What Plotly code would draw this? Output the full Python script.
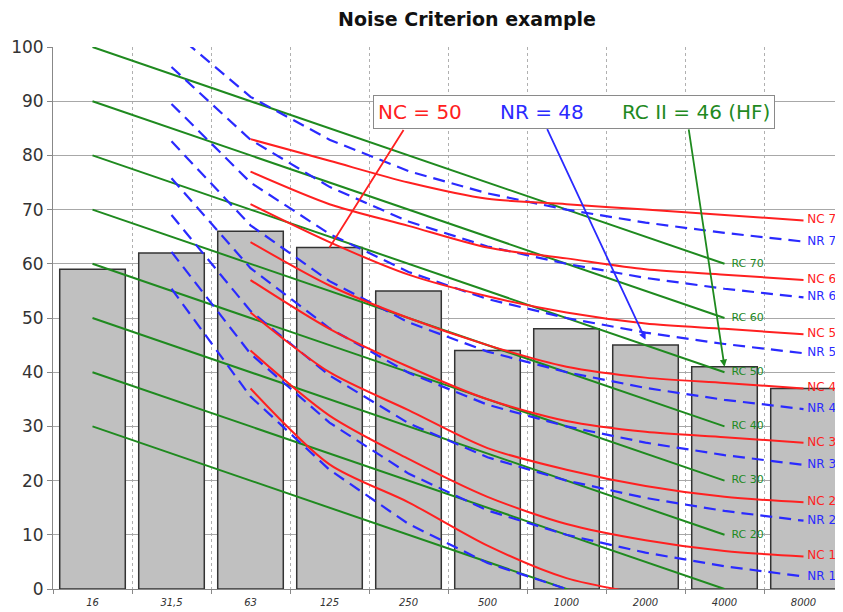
import plotly.graph_objects as go

# ---------------- data ----------------
freqs = ["16", "31,5", "63", "125", "250", "500", "1000", "2000", "4000", "8000"]
measured = [59, 62, 66, 63, 55, 44, 48, 45, 41, 37]

# RC Mark II curves (16 .. 4000 Hz)
rc_freqs = freqs[0:9]
rc_70 = [100, 95, 90, 85, 80, 75, 70, 65, 60]
rc_60 = [90, 85, 80, 75, 70, 65, 60, 55, 50]
rc_50 = [80, 75, 70, 65, 60, 55, 50, 45, 40]
rc_40 = [70, 65, 60, 55, 50, 45, 40, 35, 30]
rc_30 = [60, 55, 50, 45, 40, 35, 30, 25, 20]
rc_20 = [50, 45, 40, 35, 30, 25, 20, 15, 10]
rc_10 = [40, 35, 30, 25, 20, 15, 10, 5, 0]
rc_0 = [30, 25, 20, 15, 10, 5, 0, -5, -10]
rc_labels = ["RC 70", "RC 60", "RC 50", "RC 40", "RC 30", "RC 20", "", ""]

# NR curves (31.5 .. 8000 Hz)
nr_freqs = freqs[1:10]
nr_70 = [103.1, 90.8, 82.9, 77.1, 73.0, 70, 67.6, 65.7, 64.1]
nr_60 = [96.3, 82.9, 74.2, 67.8, 63.2, 60, 57.4, 55.4, 53.8]
nr_50 = [89.5, 75.0, 65.5, 58.5, 53.5, 50, 47.3, 45.2, 43.5]
nr_40 = [82.6, 67.1, 56.8, 49.2, 43.8, 40, 37.1, 34.9, 33.2]
nr_30 = [75.8, 59.2, 48.1, 39.9, 34.0, 30, 27.0, 24.7, 22.9]
nr_20 = [69.0, 51.3, 39.4, 30.6, 24.3, 20, 16.8, 14.4, 12.6]
nr_10 = [62.2, 43.4, 30.7, 21.3, 14.5, 10, 6.7, 4.2, 2.3]
nr_0 = [55.4, 35.5, 22.0, 12.0, 4.8, 0, -3.5, -6.1, -8.0]
nr_labels = ["NR 70", "NR 60", "NR 50", "NR 40", "NR 30", "NR 20", "NR 10", ""]

# NC curves (63 .. 8000 Hz)
nc_freqs = freqs[2:10]
nc_70 = [83, 79, 75, 72, 71, 70, 69, 68]
nc_60 = [77, 71, 67, 63, 61, 59, 58, 57]
nc_50 = [71, 64, 58, 54, 51, 49, 48, 47]
nc_40 = [64, 56, 50, 45, 41, 39, 38, 37]
nc_30 = [57, 48, 41, 35, 31, 29, 28, 27]
nc_20 = [51, 40, 33, 26, 22, 19, 17, 16]
nc_10 = [44, 32, 24, 17, 12, 9, 7, 6]
nc_0 = [37, 23, 16, 8, 2, -1, -3, -4]
nc_labels = ["NC 70", "NC 60", "NC 50", "NC 40", "NC 30", "NC 20", "NC 10", ""]

rc_sets = [rc_70, rc_60, rc_50, rc_40, rc_30, rc_20, rc_10, rc_0]
nr_sets = [nr_70, nr_60, nr_50, nr_40, nr_30, nr_20, nr_10, nr_0]
nc_sets = [nc_70, nc_60, nc_50, nc_40, nc_30, nc_20, nc_10, nc_0]

RED = "#ff2020"
BLUE = "#2a2aff"
GREEN = "#1f8a1f"
FONT = "DejaVu Sans"

fig = go.Figure()

fig.add_trace(go.Bar(
    x=freqs, y=measured,
    marker=dict(color="#c0c0c0", line=dict(color="#333333", width=1.5)),
    hoverinfo="skip",
))


def end_label(n, lab, pad):
    return [""] * (n - 1) + [(pad + lab) if lab else ""]


for vals, lab in zip(rc_sets, rc_labels):
    fig.add_trace(go.Scatter(
        x=rc_freqs, y=vals, mode="lines+text",
        text=end_label(len(vals), lab, "  "), textposition="middle right",
        textfont=dict(color=GREEN, size=11, family=FONT),
        line=dict(color=GREEN, width=2), cliponaxis=False,
    ))

for vals, lab in zip(nr_sets, nr_labels):
    fig.add_trace(go.Scatter(
        x=nr_freqs, y=vals, mode="lines+text",
        text=end_label(len(vals), lab, " "), textposition="middle right",
        textfont=dict(color=BLUE, size=12, family=FONT),
        line=dict(color=BLUE, width=2.2, dash="12px,7px"), cliponaxis=False,
    ))

for vals, lab in zip(nc_sets, nc_labels):
    fig.add_trace(go.Scatter(
        x=nc_freqs, y=vals, mode="lines+text",
        text=end_label(len(vals), lab, " "), textposition="middle right",
        textfont=dict(color=RED, size=12, family=FONT),
        line=dict(color=RED, width=2, shape="spline", smoothing=0.8), cliponaxis=False,
    ))

sp = "\u00a0" * 6
box_text = (f"<span style='color:{RED}'>NC = 50</span>{sp}"
            f"<span style='color:{BLUE}'>NR = 48</span>{sp}"
            f"<span style='color:{GREEN}'>RC II = 46 (HF)</span>")

annotations = [
    dict(x=3, y=63, xref="x", yref="y", ax=75, ay=-119, text="", showarrow=True,
         arrowhead=0, arrowwidth=1.8, arrowcolor=RED, standoff=0),
    dict(x=7, y=46, xref="x", yref="y", ax=-99, ay=-212, text="", showarrow=True,
         arrowhead=2, arrowsize=0.8, arrowwidth=1.8, arrowcolor=BLUE, standoff=0),
    dict(x=8, y=41, xref="x", yref="y", ax=-36, ay=-239, text="", showarrow=True,
         arrowhead=2, arrowsize=0.8, arrowwidth=1.8, arrowcolor=GREEN, standoff=0),
    dict(x=(574 - 53) / 790, y=1 - (112 - 47) / 542, xref="paper", yref="paper",
         text=box_text, showarrow=False,
         font=dict(size=20, family=FONT), bgcolor="white", bordercolor="#8a8a8a",
         borderwidth=1, borderpad=4, xanchor="center", yanchor="middle"),
]

# the page body adds an 8px offset; margins are chosen so that the plot area
# lands at the reference position inside the 843x612 window
fig.update_layout(
    width=843, height=612,
    margin=dict(l=45, r=8, t=39, b=31, autoexpand=False),
    paper_bgcolor="white", plot_bgcolor="white",
    showlegend=False,
    bargap=0.17,
    title=dict(text="<b>Noise Criterion example</b>", x=459 / 843, xanchor="center",
               y=1 - 11 / 612, yanchor="middle", yref="container",
               font=dict(size=19, family=FONT, color="#111")),
    annotations=annotations,
    font=dict(family=FONT),
)

fig.update_xaxes(
    type="category", categoryorder="array", categoryarray=freqs,
    tickson="boundaries", showgrid=True, gridcolor="#b0b0b0", griddash="dot",
    showline=True, linecolor="#888", linewidth=1,
    ticks="outside", ticklen=4, tickcolor="#888", ticklabelstandoff=4,
    tickfont=dict(size=10, family=FONT, color="#333", style="italic"),
    range=[-0.5, 9.5], automargin=False,
)
fig.update_yaxes(
    range=[0, 100], dtick=10, showgrid=True, gridcolor="#a8a8a8", gridwidth=1,
    zeroline=False, showline=True, linecolor="#888", linewidth=1,
    ticks="outside", ticklen=5, tickcolor="#888",
    tickfont=dict(size=17, family=FONT, color="#333"), automargin=False,
)

fig.write_html("out.html")
